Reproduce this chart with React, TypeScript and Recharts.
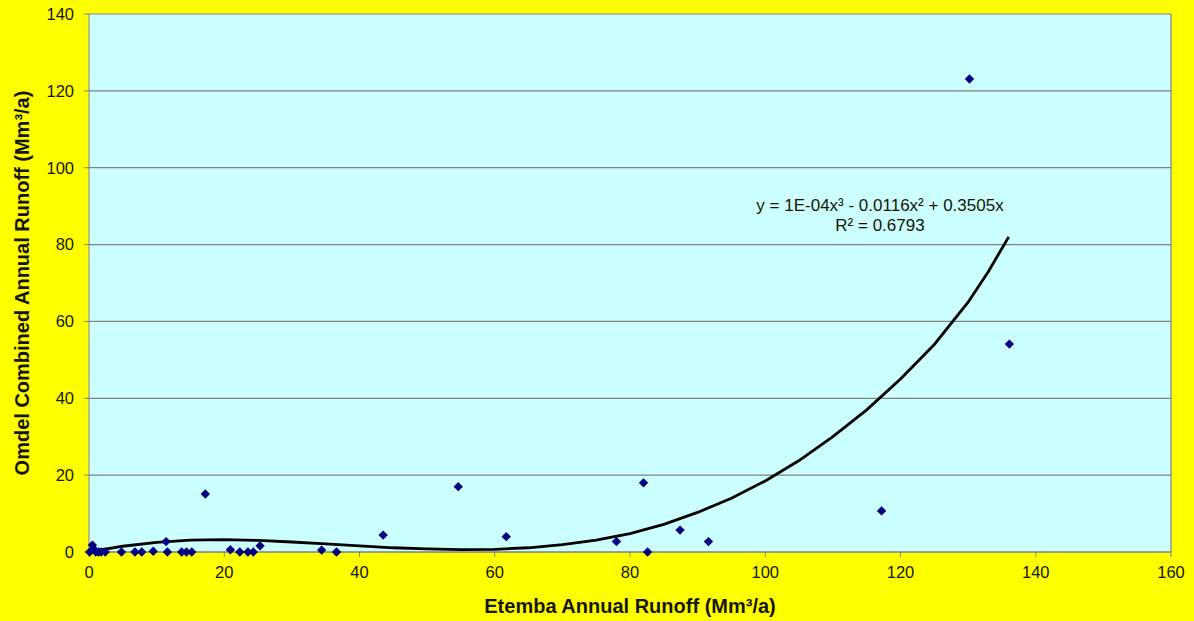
import React from 'react';
import {
  ScatterChart,
  Scatter,
  XAxis,
  YAxis,
  CartesianGrid,
  ReferenceLine,
} from 'recharts';

// Etemba (x) vs Omdel combined (y) annual runoff, Mm3/a
const etemba = [
  0.1, 0.5, 0.7, 1.0, 1.4, 1.8, 2.4, 4.8, 6.8, 7.8, 9.5, 11.4, 11.6, 13.7, 14.4, 15.2,
  17.2, 20.9, 22.3, 23.5, 24.3, 25.3, 34.4, 36.6, 43.5, 54.6, 61.7, 78.0, 82.0, 82.6,
  87.4, 91.6, 117.2, 130.2, 136.1,
];
const omdel = [
  0, 1.8, 0.8, 0, 0, 0, 0, 0, 0, 0, 0.2, 2.7, 0, 0, 0, 0,
  15.1, 0.6, 0, 0, 0, 1.6, 0.5, 0, 4.4, 17.0, 4.0, 2.7, 18.0, 0,
  5.7, 2.7, 10.7, 123.1, 54.1,
];

// trend line
const trendX = [0, 5, 10, 15, 20, 25, 30, 35, 40, 45, 50, 55, 60, 65, 70, 75, 80, 85, 90, 95, 100, 105, 110, 115, 120, 125, 130, 133, 136];
const trendY = [0, 1.5, 2.5, 3.1, 3.2, 3.0, 2.6, 2.1, 1.6, 1.1, 0.8, 0.6, 0.7, 1.1, 1.9, 3.1, 4.8, 7.2, 10.3, 14.0, 18.5, 23.8, 30.0, 37.0, 45.0, 54.0, 65.0, 73.0, 82.0];

const xTicks = [0, 20, 40, 60, 80, 100, 120, 140, 160];
const yTicks = [0, 20, 40, 60, 80, 100, 120, 140];

const points = etemba.map((x, i) => ({ x, y: omdel[i] }));
const trend = trendX.map((x, i) => ({ x, y: trendY[i] }));

const FONT = '"Liberation Sans", Arial, sans-serif';
const TEXT = '#161600';

const Diamond = (props: any) => {
  const { cx, cy } = props;
  if (cx == null || cy == null) return <g />;
  const r = 4.7;
  return (
    <path
      d={`M${cx},${cy - r}L${cx + r},${cy}L${cx},${cy + r}L${cx - r},${cy}Z`}
      fill="#000080"
    />
  );
};

const NoDot = () => <g />;

export default function App() {
  return (
    <div
      style={{
        position: 'absolute',
        left: 0,
        top: 0,
        width: 1194,
        height: 621,
        background: '#FFFF00',
        fontFamily: FONT,
      }}
    >
      <ScatterChart
        width={1194}
        height={621}
        margin={{ top: 14, right: 23, bottom: 0, left: 0 }}
      >
        <CartesianGrid fill="#CCFFFF" stroke="#808080" strokeWidth={1.2} vertical={false} />
        <XAxis
          type="number"
          dataKey="x"
          domain={[0, 160]}
          ticks={xTicks}
          height={69}
          stroke="#808080"
          tickSize={5}
          tickMargin={9}
          tick={{ fill: TEXT, fontSize: 16.5, fontFamily: FONT }}
          label={{
            value: 'Etemba Annual Runoff (Mm³/a)',
            position: 'insideBottom',
            offset: 8,
            fill: TEXT,
            fontSize: 20,
            fontWeight: 'bold',
            fontFamily: FONT,
          }}
        />
        <YAxis
          type="number"
          dataKey="y"
          domain={[0, 140]}
          ticks={yTicks}
          width={89}
          stroke="#808080"
          tickSize={5}
          tickMargin={10}
          tick={{ fill: TEXT, fontSize: 16.5, fontFamily: FONT }}
          label={{
            value: 'Omdel Combined Annual Runoff (Mm³/a)',
            angle: -90,
            position: 'insideLeft',
            offset: 22,
            style: { textAnchor: 'middle' },
            fill: TEXT,
            fontSize: 20,
            fontWeight: 'bold',
            fontFamily: FONT,
          }}
        />
        <ReferenceLine x={160} stroke="#808080" strokeWidth={1.2} />
        <Scatter
          data={trend}
          line={{ stroke: '#000000', strokeWidth: 2.8 }}
          lineType="joint"
          shape={NoDot}
          isAnimationActive={false}
        />
        <Scatter data={points} shape={Diamond} isAnimationActive={false} />
      </ScatterChart>
      <div
        style={{
          position: 'absolute',
          left: 740,
          top: 196,
          width: 280,
          textAlign: 'center',
          fontSize: 17,
          lineHeight: '20px',
          color: TEXT,
        }}
      >
        <div>y = 1E-04x³ - 0.0116x² + 0.3505x</div>
        <div>R² = 0.6793</div>
      </div>
    </div>
  );
}
